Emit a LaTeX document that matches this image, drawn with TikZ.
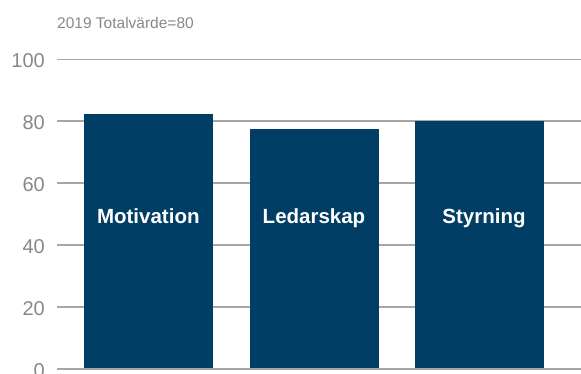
\documentclass[tikz,border=0pt]{standalone}
\usepackage{fontspec}
\setmainfont{Liberation Sans}
\definecolor{barblue}{RGB}{0,62,102}
\definecolor{gridgray}{RGB}{166,166,166}
\definecolor{labgray}{RGB}{136,136,136}
\begin{document}
\begin{tikzpicture}[x=1pt,y=-1pt,
  gridline/.style={draw=gridgray,line width=1.1pt},
  axislab/.style={anchor=base east,text=labgray,font=\fontsize{20}{20}\selectfont,inner sep=0pt},
  bar/.style={fill=barblue,draw=none},
  barlab/.style={anchor=base,text=white,font=\bfseries\fontsize{20.5}{20.5}\selectfont,inner sep=0pt}]
\useasboundingbox (0,0) rectangle (581,374);
\clip (0,0) rectangle (581,374);
% title
\node[anchor=base west,text=labgray,font=\fontsize{15.5}{15.5}\selectfont,inner sep=0pt] (title) at (57,28.3) {2019 Totalvärde=80};
% gridlines and labels
\foreach \v/\yy in {100/59.5,80/121,60/183,40/245,20/307}{
  \coordinate (gl\v) at (57,\yy);
  \coordinate (gr\v) at (581,\yy);
  \draw[gridline] (gl\v) -- (gr\v);
  \node[axislab] (lab\v) at (45,\yy+8.3) {\v};
}
\node[axislab] (lab0) at (45,377.6) {0};
% bars
\path[bar] (84,114) rectangle (212.7,369) coordinate (b1);
\path[bar] (250,129) rectangle (379,369) coordinate (b2);
\path[bar] (415,121) rectangle (544,369) coordinate (b3);
% baseline
\coordinate (gl0) at (57,369.3);
\coordinate (gr0) at (581,369.3);
\draw[draw=gridgray,line width=2.2pt] (gl0) -- (gr0);
% bar labels
\node[barlab] (m) at (148.3,223.3) {Motivation};
\node[barlab] (l) at (314,223.3) {Ledarskap};
\node[barlab] (s) at (484,223.3) {Styrning};
\end{tikzpicture}
\end{document}
